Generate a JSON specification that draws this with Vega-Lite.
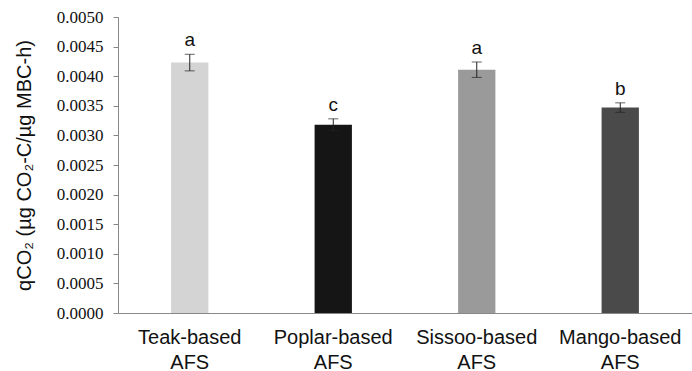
{
  "$schema": "https://vega.github.io/schema/vega-lite/v6.json",
  "width": 574,
  "height": 296,
  "autosize": {"type": "none"},
  "padding": {"left": 118, "top": 17, "right": 0, "bottom": 58},
  "background": "white",
  "data": {
    "values": [
      {"system": "Teak-based AFS", "qco2": 0.00423, "lo": 0.00409, "hi": 0.00437, "letter": "a", "shade": "Teak"},
      {"system": "Poplar-based AFS", "qco2": 0.00318, "lo": 0.00308, "hi": 0.00328, "letter": "c", "shade": "Poplar"},
      {"system": "Sissoo-based AFS", "qco2": 0.00411, "lo": 0.00398, "hi": 0.00424, "letter": "a", "shade": "Sissoo"},
      {"system": "Mango-based AFS", "qco2": 0.00347, "lo": 0.00339, "hi": 0.00355, "letter": "b", "shade": "Mango"}
    ]
  },
  "config": {
    "view": {"stroke": null},
    "axis": {"grid": false, "domainColor": "#888888", "tickColor": "#888888"},
    "axisY": {
      "values": [0, 0.0005, 0.001, 0.0015, 0.002, 0.0025, 0.003, 0.0035, 0.004, 0.0045, 0.005],
      "format": ".4f",
      "labelOverlap": false,
      "labelFont": "Liberation Serif",
      "labelFontSize": 17,
      "labelColor": "#111111",
      "tickSize": 5,
      "labelPadding": 10,
      "titleFont": "Liberation Sans",
      "titleFontSize": 20,
      "titleFontWeight": "normal",
      "titleColor": "#111111",
      "titlePadding": 22
    }
  },
  "encoding": {
    "x": {
      "field": "system",
      "type": "nominal",
      "sort": null,
      "scale": {"paddingInner": 0.74, "paddingOuter": 0.37},
      "axis": {
        "title": null,
        "labelAngle": 0,
        "ticks": false,
        "labelExpr": "split(datum.label, ' ')",
        "labelFont": "Liberation Sans",
        "labelFontSize": 20,
        "labelColor": "#111111",
        "labelPadding": 30,
        "labelLineHeight": 25,
        "labelBaseline": "alphabetic"
      }
    }
  },
  "layer": [
    {
      "mark": {"type": "bar"},
      "encoding": {
        "y": {
          "field": "qco2",
          "type": "quantitative",
          "title": "qCO₂ (µg CO₂-C/µg MBC-h)",
          "scale": {"domain": [0, 0.005], "nice": false}
        },
        "color": {
          "field": "shade",
          "type": "nominal",
          "scale": {"domain": ["Teak", "Poplar", "Sissoo", "Mango"], "range": ["#d4d4d4", "#151515", "#9a9a9a", "#4a4a4a"]},
          "legend": null
        }
      }
    },
    {
      "mark": {"type": "errorbar", "ticks": {"size": 10, "color": "#222222"}, "rule": {"color": "#222222"}},
      "encoding": {
        "y": {"field": "lo", "type": "quantitative", "title": "qCO₂ (µg CO₂-C/µg MBC-h)"},
        "y2": {"field": "hi"}
      }
    },
    {
      "mark": {"type": "text", "font": "Liberation Sans", "fontSize": 19, "dy": -14, "color": "#111111"},
      "encoding": {
        "y": {"field": "hi", "type": "quantitative", "title": "qCO₂ (µg CO₂-C/µg MBC-h)"},
        "text": {"field": "letter"}
      }
    }
  ]
}
